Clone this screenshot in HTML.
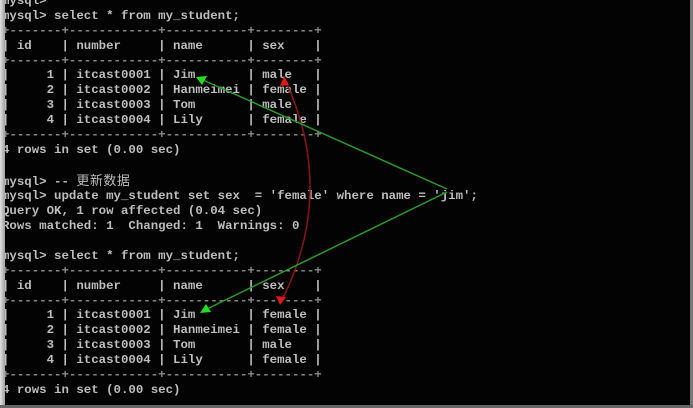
<!DOCTYPE html>
<html><head><meta charset="utf-8"><style>
html,body{margin:0;padding:0;background:#000;}
#w{position:relative;width:693px;height:408px;overflow:hidden;background:#030303;}
pre{position:absolute;left:2px;top:-6px;margin:0;font-family:"Liberation Mono","Noto Sans CJK SC",monospace;font-size:12.4px;line-height:14.88px;color:#bdbdbd;font-weight:bold;}
.cjk{font-family:"Noto Sans CJK SC",sans-serif;font-weight:normal;font-size:13px;letter-spacing:0.5px;}
.b{color:#8a8a8a;}
#ls{position:absolute;left:0;top:0;width:5px;height:408px;background:linear-gradient(to right,#e0e0e0,#a0a0a0);}
#rs{position:absolute;left:690px;top:0;width:3px;height:408px;background:#777;}
#bs{position:absolute;left:0;top:405px;width:693px;height:3px;background:#666;}
svg{position:absolute;left:0;top:0;}
</style></head><body><div id="w">
<pre>mysql&gt;
mysql&gt; select * from my_student;
<span class="b">+-------+------------+-----------+--------+</span>
| id    | number     | name      | sex    |
<span class="b">+-------+------------+-----------+--------+</span>
|     1 | itcast0001 | Jim       | male   |
|     2 | itcast0002 | Hanmeimei | female |
|     3 | itcast0003 | Tom       | male   |
|     4 | itcast0004 | Lily      | female |
<span class="b">+-------+------------+-----------+--------+</span>
4 rows in set (0.00 sec)

mysql&gt; -- <span class="cjk">更新数据</span>
mysql&gt; update my_student set sex  = 'female' where name = 'jim';
Query OK, 1 row affected (0.04 sec)
Rows matched: 1  Changed: 1  Warnings: 0

mysql&gt; select * from my_student;
<span class="b">+-------+------------+-----------+--------+</span>
| id    | number     | name      | sex    |
<span class="b">+-------+------------+-----------+--------+</span>
|     1 | itcast0001 | Jim       | female |
|     2 | itcast0002 | Hanmeimei | female |
|     3 | itcast0003 | Tom       | male   |
|     4 | itcast0004 | Lily      | female |
<span class="b">+-------+------------+-----------+--------+</span>
4 rows in set (0.00 sec)</pre>
<div id="ls"></div><div id="rs"></div><div id="bs"></div>
<svg width="693" height="408">
<path d="M287,84 Q335,192 283,298" stroke="#8a1515" stroke-width="1.5" fill="none"/>
<polygon points="284,76 280,86 289,85" fill="#e01818"/>
<polygon points="280,305 276,296 286,297" fill="#e01818"/>
<line x1="447" y1="189" x2="203" y2="80" stroke="#2a9a2a" stroke-width="1.5"/>
<line x1="447" y1="192" x2="207" y2="309" stroke="#2a9a2a" stroke-width="1.5"/>
<polygon points="196,77 207,76 202,85" fill="#22dd22"/>
<polygon points="200,313 206,304 211,312" fill="#22dd22"/>
</svg>
</div></body></html>
